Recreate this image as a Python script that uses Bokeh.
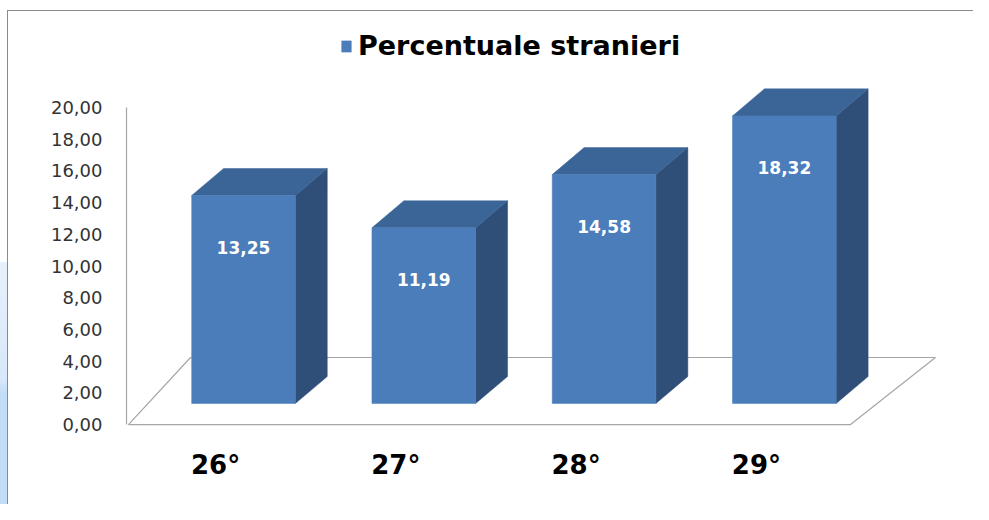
from bokeh.plotting import figure
from bokeh.models import Range1d, LinearAxis, FixedTicker, Legend, LegendItem, ColumnDataSource
from bokeh.core.properties import value
from bokeh.embed import file_html
from bokeh.resources import INLINE

# ---- data ----
categories = ["26°", "27°", "28°", "29°"]
values = [13.25, 11.19, 14.58, 18.32]
series_name = "Percentuale stranieri"
y_ticks = [0, 2, 4, 6, 8, 10, 12, 14, 16, 18, 20]
y_tick_labels = ["0,00", "2,00", "4,00", "6,00", "8,00", "10,00",
                 "12,00", "14,00", "16,00", "18,00", "20,00"]

# ---- styles / geometry ----
FONT = "DejaVu Sans"
FRONT = "#4a7dba"
TOP = "#3b6597"
SIDE = "#2f4e78"
GRID_GRAY = "#a6a6a6"
W = 0.575              # bar width (category units)
DX, DY = 0.177, 1.72   # 3D depth offset of bars
LABEL_SHIFT = 0.155    # category labels sit at front edge of floor
FLOOR_FRONT_Y, FLOOR_BACK_Y = -1.34, 2.93
FLOOR_FRONT_DX = (-0.138, -0.133)
FLOOR_BACK_DX = (0.206, 0.338)

n = len(categories)
idx = list(range(n))
x0, x1 = -0.649, 3.977

p = figure(width=973, height=504, output_backend="svg", toolbar_location=None,
           x_range=Range1d(x0, x1), y_range=Range1d(-2.357, 24.395),
           x_axis_location=None, y_axis_location=None,
           min_border_left=126, min_border_right=13, min_border_top=20, min_border_bottom=64)
p.grid.visible = False
p.outline_line_color = None
p.background_fill_color = "white"
p.border_fill_alpha = 0
p.styles = {
    "background-color": "white",
    "background-image": ("linear-gradient(#8a8a8a,#8a8a8a), linear-gradient(#8a8a8a,#8a8a8a), "
                         "linear-gradient(to bottom, #e6f0fb, #d8e8fa 45%, #c4ddf7 50%, #c4ddf7)"),
    "background-position": "7px 10px, 7px 10px, 0px 262px",
    "background-size": "100% 1px, 1px 100%, 7px 260px",
    "background-repeat": "no-repeat",
}

p.extra_y_ranges = {"axis": Range1d(-1.009, 25.49)}
p.extra_x_ranges = {"labels": Range1d(x0 + LABEL_SHIFT, x1 + LABEL_SHIFT)}

# floor
fx = [-0.5 + FLOOR_FRONT_DX[0], n - 0.5 + FLOOR_FRONT_DX[1],
      n - 0.5 + FLOOR_BACK_DX[1], -0.5 + FLOOR_BACK_DX[0]]
fy = [FLOOR_FRONT_Y, FLOOR_FRONT_Y, FLOOR_BACK_Y, FLOOR_BACK_Y]
p.patch(fx, fy, fill_color="white", line_color=GRID_GRAY, line_width=1.2)

# side and top faces
side_xs, side_ys, top_xs, top_ys = [], [], [], []
for i, v in zip(idx, values):
    l, r = i - W / 2, i + W / 2
    side_xs.append([r, r + DX, r + DX, r])
    side_ys.append([0, DY, v + DY, v])
    top_xs.append([l, r, r + DX, l + DX])
    top_ys.append([v, v, v + DY, v + DY])
p.patches(side_xs, side_ys, fill_color=SIDE, line_color=SIDE, line_width=0.5)
p.patches(top_xs, top_ys, fill_color=TOP, line_color=TOP, line_width=0.5)

# front faces
src = ColumnDataSource(dict(x=idx, top=values,
                            lab=[f"{v:.2f}".replace(".", ",") for v in values],
                            ly=[v - 3.3 for v in values]))
front = p.vbar(x="x", top="top", bottom=0, width=W, source=src,
               fill_color=FRONT, line_color=FRONT, line_width=0.5)

p.text(x="x", y="ly", text="lab", source=src, text_color="white",
       text_font=value(FONT), text_font_style="bold", text_font_size="17px",
       text_align="center", text_baseline="middle")

# y axis
yaxis = LinearAxis(y_range_name="axis", ticker=FixedTicker(ticks=y_ticks),
                   major_label_overrides={t: l for t, l in zip(y_ticks, y_tick_labels)},
                   bounds=(0, 20))
yaxis.axis_line_color = GRID_GRAY
yaxis.axis_line_width = 1.2
yaxis.major_tick_line_color = None
yaxis.minor_tick_line_color = None
yaxis.major_label_standoff = 18
yaxis.major_label_text_font = FONT
yaxis.major_label_text_font_size = "18px"
yaxis.major_label_text_color = "#333333"
p.add_layout(yaxis, "left")

# x axis
xaxis = LinearAxis(x_range_name="labels", ticker=FixedTicker(ticks=idx),
                   major_label_overrides={i: c for i, c in zip(idx, categories)})
xaxis.axis_line_color = None
xaxis.major_tick_line_color = None
xaxis.minor_tick_line_color = None
xaxis.major_label_standoff = 3
xaxis.major_label_text_font = FONT
xaxis.major_label_text_font_style = "bold"
xaxis.major_label_text_font_size = "26px"
xaxis.major_label_text_color = "black"
p.add_layout(xaxis, "below")

legend = Legend(items=[LegendItem(label=series_name, renderers=[front])],
                location=(214, 379), padding=0, margin=0, spacing=0,
                glyph_width=12, glyph_height=14, label_standoff=6,
                label_text_font=FONT, label_text_font_style="bold",
                label_text_font_size="27px", label_text_color="black",
                border_line_color=None, background_fill_alpha=0)
p.add_layout(legend)

open("out.html", "w").write(file_html(p, INLINE))
